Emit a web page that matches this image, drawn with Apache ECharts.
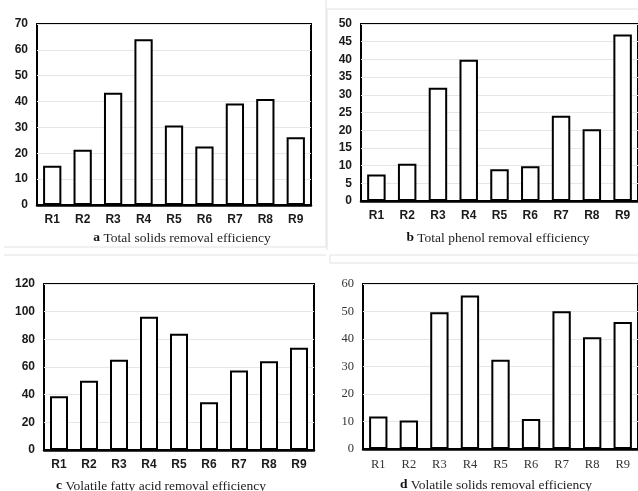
<!DOCTYPE html>
<html>
<head>
<meta charset="utf-8">
<script src="https://cdn.jsdelivr.net/npm/echarts@6/dist/echarts.min.js"></script>
<style>
  html, body { margin: 0; padding: 0; background: #fff; }
  #main { width: 638px; height: 491px; }
</style>
</head>
<body>
<div id="main"></div>
<script>
  // categories shared by all four panels
  var reactors = ['R1', 'R2', 'R3', 'R4', 'R5', 'R6', 'R7', 'R8', 'R9'];

  // removal efficiencies
  var totalSolids = [15.2, 21.4, 43.4, 64.1, 30.7, 22.6, 39.3, 41.0, 26.2];
  var totalPhenol = [7.5, 10.5, 32.0, 39.9, 9.0, 9.8, 24.1, 20.3, 47.0];
  var volatileFattyAcid = [38.9, 50.0, 65.2, 96.3, 84.0, 34.5, 57.5, 64.2, 73.9];
  var volatileSolids = [11.8, 10.4, 49.7, 55.8, 32.5, 10.9, 50.1, 40.6, 46.2];

  // y axis ranges [max, interval]
  var yMax = [70, 50, 120, 60];
  var yStep = [10, 5, 20, 10];

  var captions = [
    ['a', 'Total solids removal efficiency'],
    ['b', 'Total phenol removal efficiency'],
    ['c', 'Volatile fatty acid removal efficiency'],
    ['d', 'Volatile solids removal efficiency']
  ];

  var grids = [
    { left: 37, top: 24, width: 274, height: 181 },
    { left: 361, top: 24, width: 277, height: 177 },
    { left: 44, top: 284, width: 270, height: 166 },
    { left: 363, top: 284, width: 276, height: 165 }
  ];

  var sansLabel = { fontFamily: 'Liberation Sans, Arial', fontWeight: 'bold', fontSize: 12, color: '#1a1a1a' };
  var serifLabel = { fontFamily: 'Liberation Serif, Times New Roman', fontWeight: 'normal', fontSize: 12.5, color: '#333' };

  var allData = [totalSolids, totalPhenol, volatileFattyAcid, volatileSolids];

  var xAxis = [], yAxis = [], series = [];
  for (var i = 0; i < 4; i++) {
    var lab = i == 3 ? serifLabel : sansLabel;
    xAxis.push({
      type: 'category',
      gridIndex: i,
      data: reactors,
      axisTick: { show: false },
      axisLine: { lineStyle: { color: '#000', width: 2.5 } },
      axisLabel: Object.assign({ margin: 9 }, lab)
    });
    yAxis.push({
      type: 'value',
      gridIndex: i,
      min: 0,
      max: yMax[i],
      interval: yStep[i],
      axisLine: { show: false },
      axisTick: { show: false },
      splitLine: { lineStyle: { color: '#e6e6e6', width: 1 } },
      axisLabel: Object.assign({ margin: 9 }, lab)
    });
    series.push({
      type: 'bar',
      xAxisIndex: i,
      yAxisIndex: i,
      data: allData[i],
      barCategoryGap: '40%',
      itemStyle: { color: '#fff', borderColor: '#000', borderWidth: 2 },
      silent: true
    });
  }

  // captions under each panel
  var capPos = [[182, 238, 13.5], [498, 238, 13.5], [161, 486, 13.5], [496, 485, 13.5]];
  var graphic = [];
  captions.forEach(function (c, i) {
    graphic.push({
      type: 'text',
      x: capPos[i][0],
      y: capPos[i][1],
      style: {
        text: '{b|' + c[0] + '} ' + c[1],
        align: 'center',
        verticalAlign: 'middle',
        font: capPos[i][2] + 'px "Liberation Serif"',
        fill: '#222',
        rich: {
          b: { fontWeight: 'bold', fontFamily: 'Liberation Serif', fontSize: capPos[i][2], fill: '#111' }
        }
      }
    });
  });

  // faint frame lines around the scanned panels
  var frameLines = [
    [4, 247, 326, 247], [4, 255, 326, 255], [326, 0, 326, 247],
    [327, 9, 638, 9], [327, 9, 327, 250],
    [330, 255, 638, 255], [330, 263, 638, 263], [330, 255, 330, 263]
  ];
  frameLines.forEach(function (l) {
    graphic.push({
      type: 'line',
      shape: { x1: l[0], y1: l[1], x2: l[2], y2: l[3] },
      style: { stroke: '#e2e2e2', lineWidth: 1 }
    });
  });

  grids.forEach(function (g) {
    g.show = true;
    g.borderColor = '#000';
    g.borderWidth = 2;
    g.backgroundColor = '#fff';
  });

  var myChart = echarts.init(document.getElementById('main'));
  myChart.setOption({
    animation: false,
    backgroundColor: '#fff',
    grid: grids,
    xAxis: xAxis,
    yAxis: yAxis,
    series: series,
    graphic: graphic
  });
</script>
</body>
</html>
